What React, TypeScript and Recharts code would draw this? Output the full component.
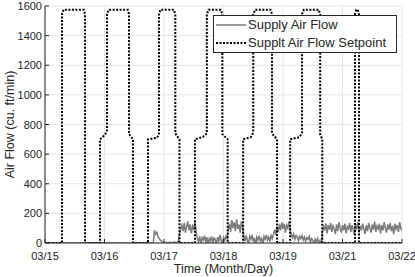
import React from "react";
import { LineChart, Line, XAxis, YAxis, CartesianGrid } from "recharts";

const font = "'Liberation Sans', Arial, Helvetica, sans-serif";
const ink = "#262626";

// x axis: days counted from 03/15 (the source skips 03/20 in its labels)
const dayTicks = [0, 1, 2, 3, 4, 5, 6];
const dayLabels = ["03/15", "03/16", "03/17", "03/18", "03/19", "03/21", "03/22"];
const flowTicks = [0, 200, 400, 600, 800, 1000, 1200, 1400, 1600];

// setpoint schedule break points
const setpointDays = [
  0, 0.286, 0.286, 0.31, 0.65, 0.672, 0.672,
  0.924, 0.924, 0.95, 1.008, 1.042, 1.042, 1.07, 1.39, 1.412, 1.412, 1.479, 1.479,
  1.731, 1.731, 1.88, 1.916, 1.916, 1.94, 2.165, 2.19, 2.19, 2.26, 2.26,
  2.52, 2.52, 2.65, 2.72, 2.72, 2.75, 2.955, 2.98, 2.98, 3.07, 3.07,
  3.33, 3.33, 3.46, 3.5, 3.5, 3.53, 3.79, 3.815, 3.815, 3.9, 3.9,
  4.12, 4.12, 4.28, 4.32, 4.32, 4.35, 4.6, 4.625, 4.625, 4.66, 4.66,
  5.21, 5.21, 5.23, 5.255, 5.277, 5.277, 6,
];
const setpointValues = [
  0, 0, 1545, 1575, 1575, 1545, 0,
  0, 700, 710, 730, 760, 1545, 1575, 1575, 1545, 735, 700, 0,
  0, 700, 710, 730, 1545, 1575, 1575, 1545, 740, 700, 0,
  0, 700, 715, 740, 1545, 1575, 1575, 1545, 735, 700, 0,
  0, 700, 715, 745, 1545, 1575, 1575, 1545, 740, 700, 0,
  0, 700, 715, 745, 1545, 1575, 1575, 1545, 735, 700, 0,
  0, 1545, 1575, 1575, 1545, 0, 0,
];

// measured supply air flow, sampled every 0.02 day from day 1.8 (zero before)
const flowStartDay = 1.8;
const flowStepDay = 0.02;
const flowValues = [
  0, 0, 85, 60, 72, 40, 30, 18, 12, 6,
  3, 2, 4, 1, 2, 5, 3, 2, 4, 6, 3, 5, 8,
  60, 95, 120, 80, 135, 70, 110, 145, 85, 125, 65, 115, 95, 140, 75,
  30, 10, 45, -15, 35, 20, 50, 5, 40, -25, 30, 15, 45, 0, 35, 25, -20, 40, 10, 55, 20, -10, 35, 15, 45, 25,
  90, 130, 75, 155, 100, 140, 80, 160, 95, 125, 70, 145, 110,
  40, 15, 50, 20, -5, 45, 25, 55, 10, 35, -20, 40, 20, 50, 15, 30, -10, 45, 25, 55, 20, 40, 10, 50, 30,
  60, 90, 55, 110, 75, 125, 85, 140, 95, 130, 70, 120, 100, 145, 85,
  55, 35, 60, 25, 50, 40, 15, 45, 30, 50, 20, 40, 10, 35, 25, 45, 5, 30, 20, -15, 25, 10, 30, -5, 15, -35,
  70, 110, 85, 130, 65, 120, 90, 135, 75, 115, 95, 60, 125, 80, 140, 100, 70, 120, 85, 130,
  65, 110, 95, 135, 75, 120, 90, 55, 125, 100, 140, 70, 115, 85, 130, 95, 60, 120, 80, 135,
  100, 70, 125, 90, 145, 75, 115, 95, 130, 65, 120, 85, 140, 100, 70, 125, 90, 135, 80, 115,
  60, 130, 95, 120, 75, 140, 100, 85,
];

const setpointData = setpointDays.map((day, i) => ({ day, setpoint: setpointValues[i] }));
const flowData = [
  { day: 0, flow: 0 },
  ...flowValues.map((flow, i) => ({ day: flowStartDay + i * flowStepDay, flow })),
];

const BottomTick = (props: any) => {
  const { x, y, payload } = props;
  return (
    <g>
      <line x1={x} x2={x} y1={y} y2={y - 4} stroke={ink} />
      <text x={x} y={y + 17} textAnchor="middle" fontSize={11} fill={ink} fontFamily={font}>
        {dayLabels[payload.value]}
      </text>
    </g>
  );
};

const TopTick = (props: any) => {
  const { x, y } = props;
  return <line x1={x} x2={x} y1={y} y2={y + 4} stroke={ink} />;
};

const LeftTick = (props: any) => {
  const { x, y, payload } = props;
  return (
    <g>
      <line x1={x} x2={x + 4} y1={y} y2={y} stroke={ink} />
      <text x={x - 3} y={y + 4} textAnchor="end" fontSize={11} fill={ink} fontFamily={font}>
        {payload.value}
      </text>
    </g>
  );
};

const RightTick = (props: any) => {
  const { x, y } = props;
  return <line x1={x} x2={x - 4} y1={y} y2={y} stroke={ink} />;
};

const LegendRow = ({ label, dashed }: { label: string; dashed?: boolean }) => (
  <div style={{ display: "flex", alignItems: "center", height: 18 }}>
    <svg width={32} height={18} style={{ marginLeft: 1 }}>
      {dashed ? (
        <line x1={1} x2={31} y1={9} y2={9} stroke="#000" strokeWidth={2} strokeDasharray="2 1.5" />
      ) : (
        <line x1={1} x2={31} y1={9} y2={9} stroke="#7a7a7a" strokeWidth={1.5} />
      )}
    </svg>
    <span style={{ marginLeft: 1, color: ink }}>{label}</span>
  </div>
);

const App = () => {
  return (
    <div style={{ position: "absolute", left: 0, top: 0, width: 415, height: 277, background: "#fff" }}>
      <LineChart width={415} height={277} margin={{ top: 6, right: 13, bottom: 0, left: 0 }}>
        <CartesianGrid stroke="#e6e6e6" />
        <XAxis
          dataKey="day"
          type="number"
          domain={[0, 6]}
          ticks={dayTicks}
          allowDataOverflow
          height={34}
          tickSize={0}
          tickMargin={0}
          tickLine={false}
          axisLine={{ stroke: ink }}
          tick={<BottomTick />}
          interval={0}
          label={{
            content: (p: any) => {
              const vb = p.viewBox;
              return (
                <text x={vb.x + vb.width / 2} y={vb.y + 30} textAnchor="middle" fontSize={12.5} fill={ink} fontFamily={font}>
                  Time (Month/Day)
                </text>
              );
            },
          }}
        />
        <XAxis
          xAxisId="top"
          dataKey="day"
          type="number"
          orientation="top"
          domain={[0, 6]}
          ticks={dayTicks}
          allowDataOverflow
          height={0}
          tickSize={0}
          tickMargin={0}
          tickLine={false}
          axisLine={{ stroke: ink }}
          tick={<TopTick />}
          interval={0}
        />
        <YAxis
          type="number"
          domain={[0, 1600]}
          ticks={flowTicks}
          allowDataOverflow
          width={45}
          tickSize={0}
          tickMargin={0}
          tickLine={false}
          axisLine={{ stroke: ink }}
          tick={<LeftTick />}
          interval={0}
          label={{
            content: (p: any) => {
              const vb = p.viewBox;
              const cx = 10;
              const cy = vb.y + vb.height / 2;
              return (
                <text
                  x={cx}
                  y={cy}
                  transform={`rotate(-90 ${cx} ${cy})`}
                  textAnchor="middle"
                  dominantBaseline="central"
                  fontSize={12.5}
                  fill={ink}
                  fontFamily={font}
                >
                  Air Flow (cu. ft/min)
                </text>
              );
            },
          }}
        />
        <YAxis
          yAxisId="right"
          type="number"
          orientation="right"
          domain={[0, 1600]}
          ticks={flowTicks}
          allowDataOverflow
          width={0}
          tickSize={0}
          tickMargin={0}
          tickLine={false}
          axisLine={{ stroke: ink }}
          tick={<RightTick />}
          interval={0}
        />
        <Line
          data={flowData}
          dataKey="flow"
          type="linear"
          stroke="#7a7a7a"
          strokeWidth={1.5}
          dot={false}
          isAnimationActive={false}
        />
        <Line
          data={setpointData}
          dataKey="setpoint"
          xAxisId="top"
          yAxisId="right"
          type="linear"
          stroke="#000"
          strokeWidth={2}
          strokeDasharray="2 1.5"
          dot={false}
          isAnimationActive={false}
        />
      </LineChart>
      <div
        style={{
          position: "absolute",
          left: 213,
          top: 15,
          width: 184,
          height: 38,
          boxSizing: "border-box",
          border: `1px solid ${ink}`,
          background: "#fff",
          fontFamily: font,
          fontSize: 13,
          lineHeight: "18px",
          paddingTop: 0,
        }}
      >
        <LegendRow label="Supply Air Flow" />
        <LegendRow label="Supplt Air Flow Setpoint" dashed />
      </div>
    </div>
  );
};

export default App;
